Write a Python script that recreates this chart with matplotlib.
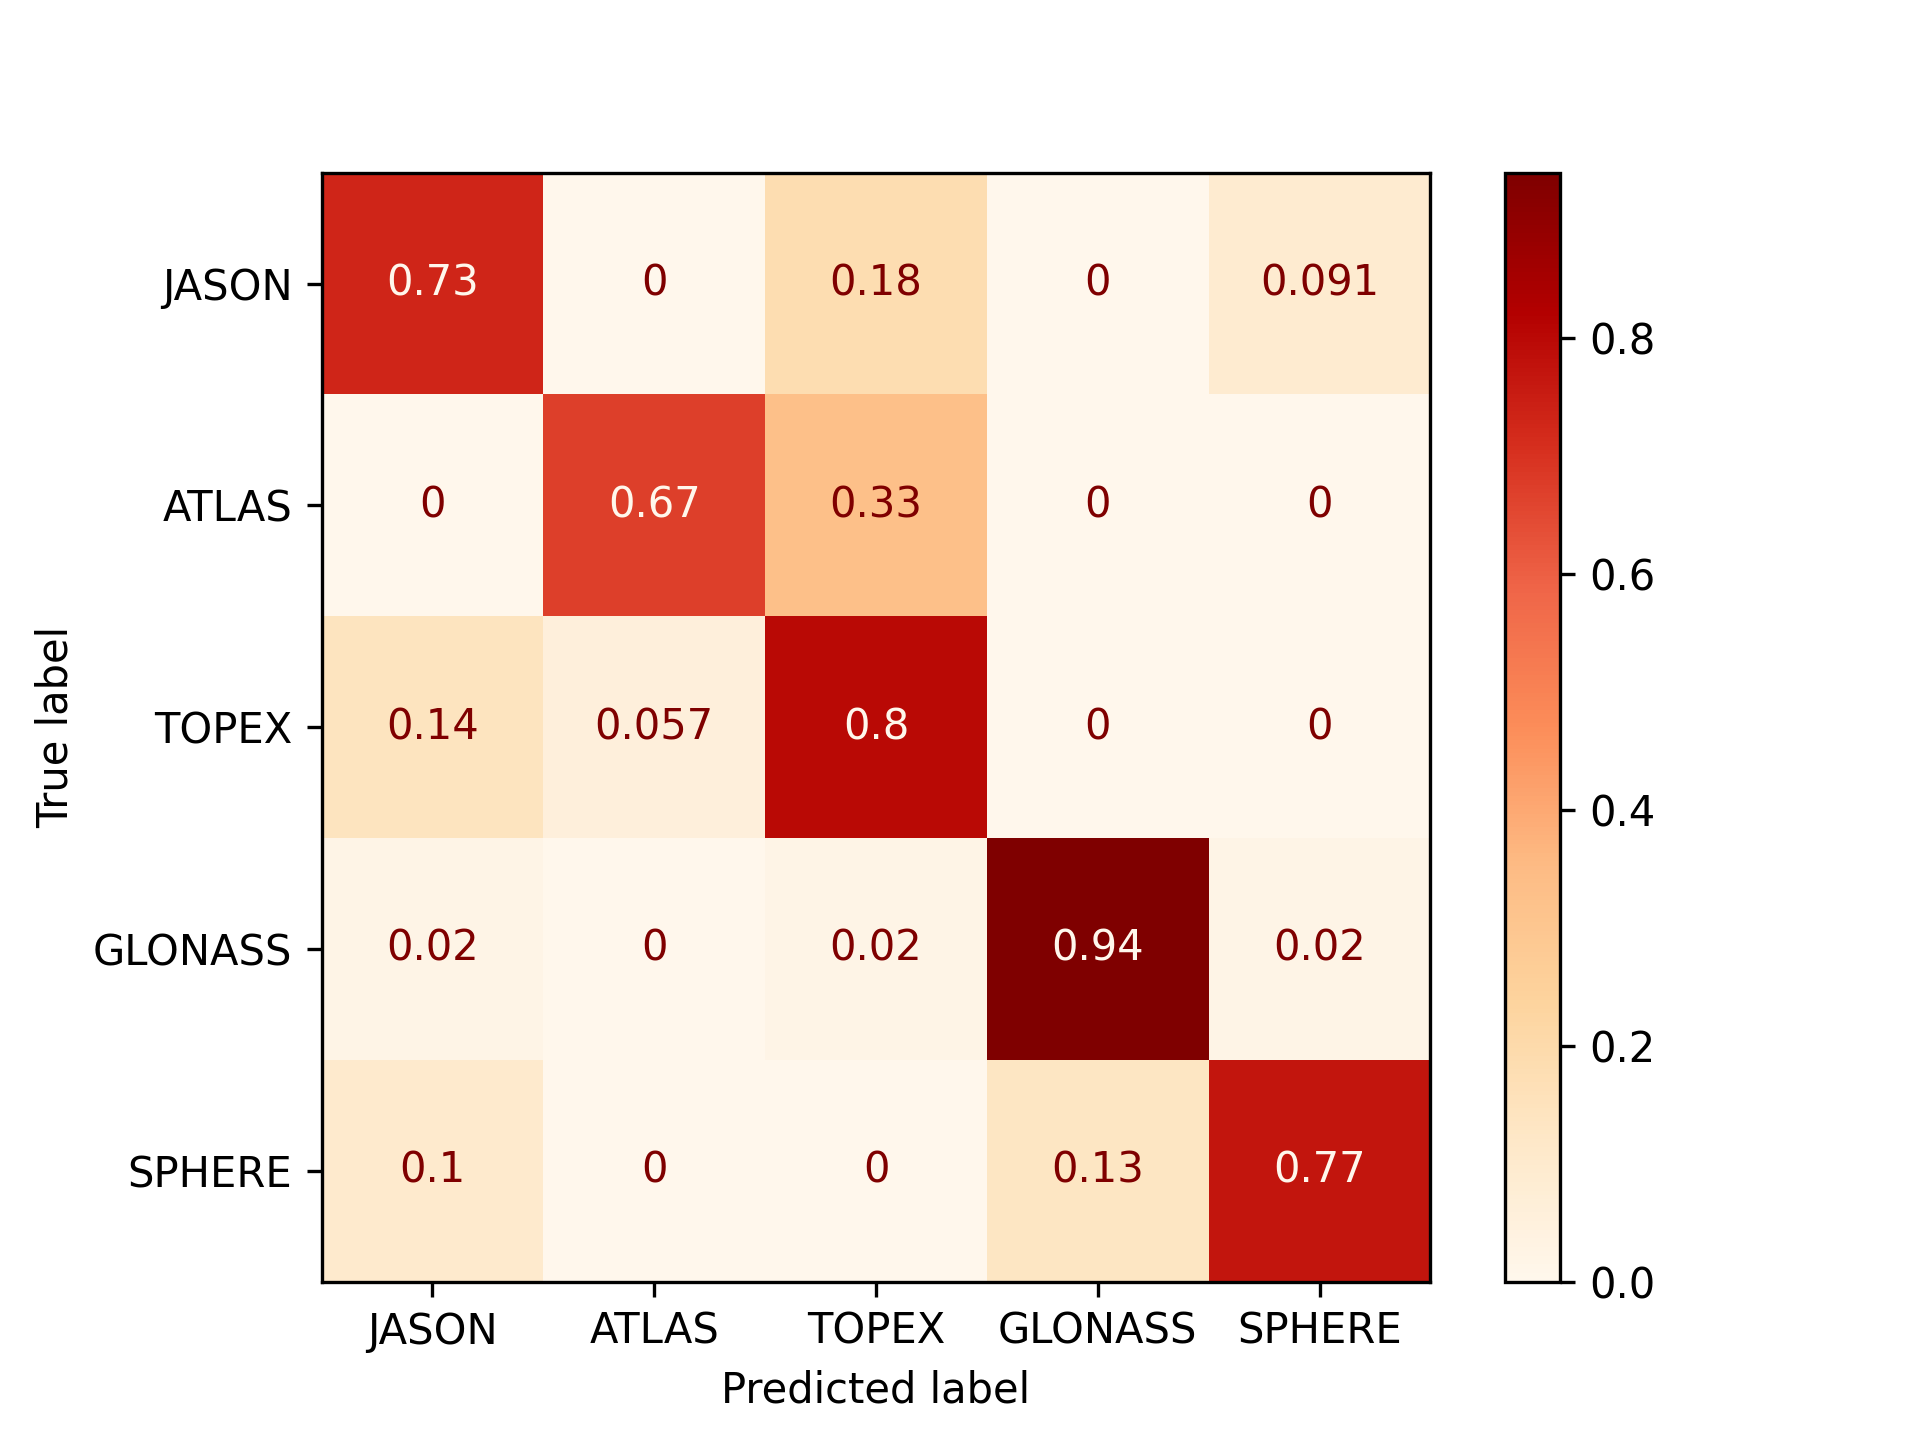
import matplotlib
matplotlib.use("Agg")
import matplotlib.pyplot as plt
import numpy as np

labels = ["JASON", "ATLAS", "TOPEX", "GLONASS", "SPHERE"]
row_jason = [0.73, 0.0, 0.18, 0.0, 0.091]
row_atlas = [0.0, 0.67, 0.33, 0.0, 0.0]
row_topex = [0.14, 0.057, 0.8, 0.0, 0.0]
row_glonass = [0.02, 0.0, 0.02, 0.94, 0.02]
row_sphere = [0.1, 0.0, 0.0, 0.13, 0.77]

cm = np.array([row_jason, row_atlas, row_topex, row_glonass, row_sphere])
n = len(labels)

fig, ax = plt.subplots(figsize=(6.4, 4.8), dpi=300)
cmap = plt.get_cmap("OrRd")
im = ax.imshow(cm, interpolation="nearest", cmap=cmap)
cmap_min, cmap_max = im.cmap(0), im.cmap(1.0)
thresh = (cm.max() + cm.min()) / 2.0
for i in range(n):
    for j in range(n):
        color = cmap_max if cm[i, j] < thresh else cmap_min
        ax.text(j, i, format(cm[i, j], ".2g"), ha="center", va="center", color=color)

fig.colorbar(im, ax=ax)
ax.set(xticks=np.arange(n), yticks=np.arange(n), xticklabels=labels, yticklabels=labels,
       ylabel="True label", xlabel="Predicted label")
ax.set_ylim((n - 0.5, -0.5))
fig.savefig("out.png", dpi=300)
